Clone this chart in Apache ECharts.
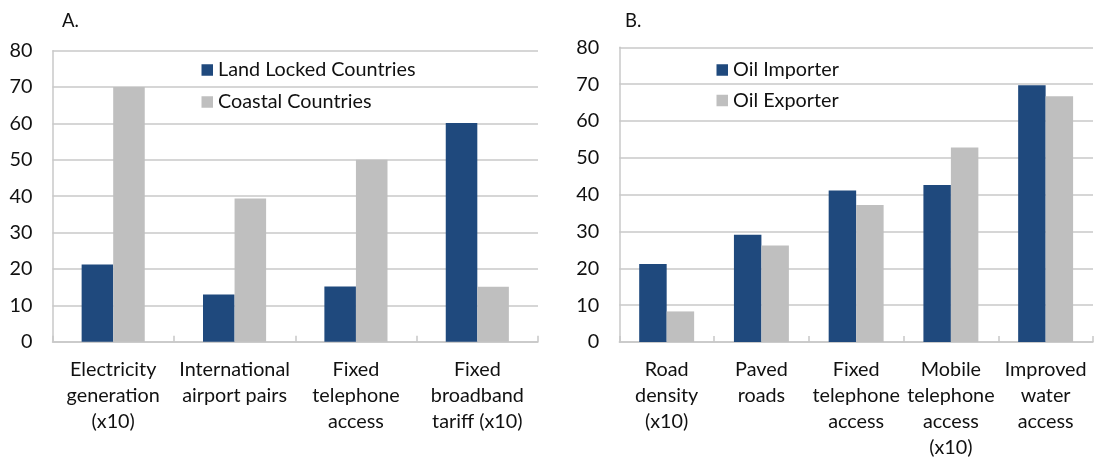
<!DOCTYPE html>
<html>
<head>
<meta charset="utf-8">
<script src="https://cdn.jsdelivr.net/npm/echarts@6/dist/echarts.min.js"></script>
<style>
html,body{margin:0;padding:0;background:#fff;}
#chart{width:1096px;height:461px;}
</style>
</head>
<body>
<div id="chart"></div>
<script>
// Panel A
var catsA = ['Electricity\ngeneration\n(x10)', 'International\nairport pairs', 'Fixed\ntelephone\naccess', 'Fixed\nbroadband\ntariff (x10)'];
var landLocked = [21.2, 13.0, 15.2, 60.1];
var coastal = [70.0, 39.4, 50.0, 15.1];
// Panel B
var catsB = ['Road\ndensity\n(x10)', 'Paved\nroads', 'Fixed\ntelephone\naccess', 'Mobile\ntelephone\naccess\n(x10)', 'Improved\nwater\naccess'];
var oilImporter = [21.2, 29.1, 41.1, 42.6, 69.7];
var oilExporter = [8.3, 26.2, 37.2, 52.8, 66.7];
var yTicks = [0, 10, 20, 30, 40, 50, 60, 70, 80];

var FONT = 'Lato';
var FS = 19.8;
var TXT = '#111';
var GRID = '#c8c8c8';
var BLUE = '#1f497d';
var GRAY = '#bfbfbf';

function xAxis(idx, cats) {
  return {
    type: 'category', gridIndex: idx, data: cats,
    axisLine: {show: true, lineStyle: {color: GRID, width: 1.5}},
    axisTick: {show: true, inside: true, length: 6, alignWithLabel: false, lineStyle: {color: GRID, width: 1.5}},
    axisLabel: {color: TXT, fontFamily: FONT, fontSize: FS, lineHeight: 26, margin: 15, interval: 0},
    splitLine: {show: false}
  };
}
function yAxis(idx) {
  return {
    type: 'value', gridIndex: idx, min: yTicks[0], max: yTicks[yTicks.length - 1], interval: 10,
    axisLine: {show: true, lineStyle: {color: GRID, width: 1.5}},
    axisTick: {show: false},
    axisLabel: {color: TXT, fontFamily: FONT, fontSize: FS, margin: 20},
    splitLine: {show: true, lineStyle: {color: GRID, width: 1.5}}
  };
}

var chart = echarts.init(document.getElementById('chart'), null, {renderer: 'canvas'});
chart.setOption({
  animation: false,
  backgroundColor: '#fff',
  title: [
    {text: 'A.', left: 57, top: 7, textStyle: {fontFamily: FONT, fontSize: 18.5, fontWeight: 'normal', color: TXT}},
    {text: 'B.', left: 620, top: 7, textStyle: {fontFamily: FONT, fontSize: 18.5, fontWeight: 'normal', color: TXT}}
  ],
  legend: [
    {
      data: ['Land Locked Countries', 'Coastal Countries'],
      orient: 'vertical', left: 201.5, top: 60, padding: 0,
      icon: 'rect', itemWidth: 11.5, itemHeight: 11.5, itemGap: 12,
      textStyle: {fontFamily: FONT, fontSize: FS, color: TXT, lineHeight: 20}
    },
    {
      data: ['Oil Importer', 'Oil Exporter'],
      orient: 'vertical', left: 716.5, top: 60, padding: 0,
      icon: 'rect', itemWidth: 11.5, itemHeight: 11.5, itemGap: 10.5,
      textStyle: {fontFamily: FONT, fontSize: FS, color: TXT, lineHeight: 20}
    }
  ],
  grid: [
    {left: 52.5, right: 558, top: 50.7, bottom: 119.3},
    {left: 619.3, right: 3, top: 47.3, bottom: 119}
  ],
  xAxis: [xAxis(0, catsA), xAxis(1, catsB)],
  yAxis: [yAxis(0), yAxis(1)],
  series: [
    {name: 'Land Locked Countries', type: 'bar', xAxisIndex: 0, yAxisIndex: 0, data: landLocked,
     itemStyle: {color: BLUE}, barGap: '0%', barCategoryGap: '48%'},
    {name: 'Coastal Countries', type: 'bar', xAxisIndex: 0, yAxisIndex: 0, data: coastal,
     itemStyle: {color: GRAY}, barGap: '0%', barCategoryGap: '48%'},
    {name: 'Oil Importer', type: 'bar', xAxisIndex: 1, yAxisIndex: 1, data: oilImporter,
     itemStyle: {color: BLUE}, barGap: '0%', barCategoryGap: '42%'},
    {name: 'Oil Exporter', type: 'bar', xAxisIndex: 1, yAxisIndex: 1, data: oilExporter,
     itemStyle: {color: GRAY}, barGap: '0%', barCategoryGap: '42%'}
  ]
});
</script>
</body>
</html>
